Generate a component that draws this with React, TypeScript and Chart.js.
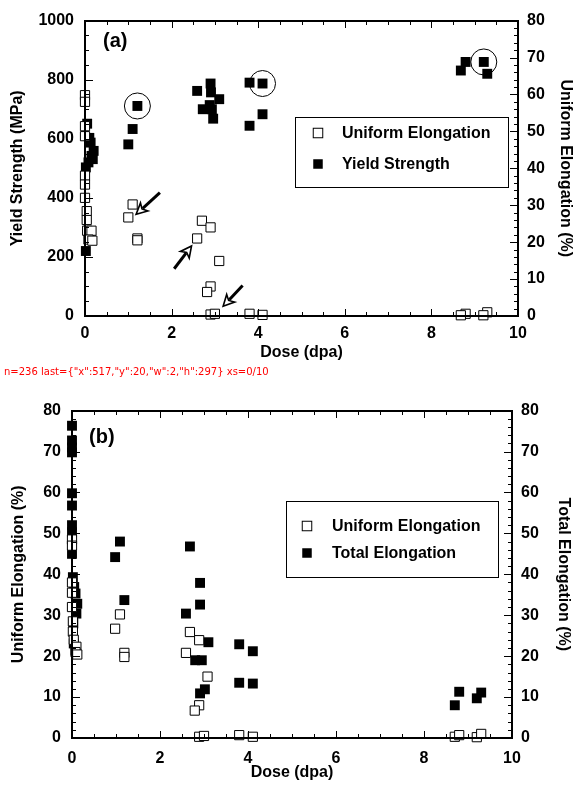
import React, { useEffect, useRef, useState } from 'react';
import { Chart, registerables } from 'chart.js';

Chart.register(...registerables);

const FONT = "'Liberation Sans', Arial, Helvetica, sans-serif";

// ---------------- Panel (a) ----------------
const doseUE_a = [0, 0, 0, 0, 0, 0, 0, 0.04, 0.04, 0.05, 0.15, 0.08, 0.17, 1.10, 1.00, 1.21, 1.21, 2.70, 2.90, 2.59, 3.10, 2.90, 2.82, 2.90, 3.00, 3.80, 4.10, 8.79, 8.68, 9.29, 9.20];
const uniformElong_a = [59.8, 58.0, 51.4, 48.7, 38.0, 35.6, 32.0, 28.4, 26.0, 23.1, 23.1, 20.7, 20.4, 30.2, 26.7, 21.0, 20.5, 25.8, 24.0, 21.0, 14.9, 8.0, 6.5, 0.4, 0.6, 0.6, 0.3, 0.6, 0.2, 1.0, 0.2];
const doseYS_a = [0.05, 0.10, 0.13, 0.20, 0.15, 0.08, 0.02, 0.18, 0.02, 1.21, 1.10, 1.00, 2.59, 2.90, 2.91, 3.10, 2.72, 2.88, 2.96, 2.93, 3.80, 4.10, 4.10, 3.80, 8.68, 8.79, 9.21, 9.29];
const yieldStrength_a = [651, 603, 587, 559, 542, 520, 503, 531, 220, 711, 633, 581, 762, 787, 757, 734, 700, 714, 668, 700, 790, 787, 683, 644, 831, 860, 860, 820];

const circleDose_a = [1.21, 4.10, 9.21];
const circleMPa_a = [711, 787, 860];
const arrowFromDose_a = [1.73, 2.06, 3.64];
const arrowFromMPa_a = [418, 160, 103];
const arrowToDose_a = [1.18, 2.46, 3.19];
const arrowToMPa_a = [344, 237, 33];

// ---------------- Panel (b) ----------------
const doseUE_b = [0, 0, 0, 0, 0, 0.02, 0.02, 0.04, 0.10, 0.08, 0.12, 1.09, 0.98, 1.19, 1.19, 2.68, 2.89, 2.59, 3.08, 2.89, 2.79, 2.89, 3.00, 3.80, 4.11, 8.70, 8.80, 9.20, 9.30];
const uniformElong_b = [48.5, 47.0, 38.0, 35.5, 32.0, 28.5, 26.0, 24.0, 22.3, 21.0, 20.4, 30.2, 26.7, 20.8, 19.8, 25.9, 23.9, 20.8, 15.0, 8.0, 6.7, 0.3, 0.5, 0.7, 0.3, 0.3, 0.7, 0.2, 1.0];
const doseTE_b = [0, 0, 0, 0, 0, 0, 0, 0, 0, 0.02, 0.05, 0.08, 0.12, 0.10, 0.03, 0.04, 0.08, 1.09, 0.98, 1.19, 2.68, 2.91, 2.91, 2.59, 3.10, 2.80, 2.95, 2.91, 3.02, 3.80, 4.11, 3.80, 4.11, 8.70, 8.80, 9.20, 9.30];
const totalElong_b = [76.3, 72.7, 71.0, 69.8, 59.8, 56.8, 52.0, 50.3, 45.0, 39.3, 36.9, 35.3, 32.8, 30.4, 28.0, 23.1, 21.5, 48.0, 44.2, 33.7, 46.8, 37.9, 32.6, 30.4, 23.4, 19.0, 19.0, 10.9, 11.9, 22.9, 21.2, 13.5, 13.3, 8.0, 11.3, 9.7, 11.1];

const xTickLabels = ['0', '2', '4', '6', '8', '10'];

const pts = (xs: number[], ys: number[]) => xs.map((x, i) => ({ x, y: ys[i] }));

const tickFont = { family: FONT, size: 16, weight: 'bold' as const };

type R = { x: number; y: number; w: number; h: number };

function frameGeometry(chart: any, tk: any): R[] {
  const xs = chart.scales.x, ys = chart.scales.y, y2 = chart.scales.y2;
  const out: R[] = [];
  const L0 = Math.round(xs.getPixelForValue(xs.min));
  const R0 = Math.round(xs.getPixelForValue(xs.max));
  const T0 = Math.round(ys.getPixelForValue(ys.max));
  const B0 = Math.round(ys.getPixelForValue(ys.min));
  const isMajor = (v: number, m: number) => Math.abs(v / m - Math.round(v / m)) < 1e-6;
  const nX = Math.round((xs.max - xs.min) / tk.xMinor);
  for (let i = 0; i <= nX; i++) {
    const v = xs.min + i * tk.xMinor;
    const p = Math.round(xs.getPixelForValue(v));
    const len = isMajor(v, tk.xMajor) ? 7 : 4;
    out.push({ x: p, y: B0 - len, w: 1, h: len });
    out.push({ x: p, y: T0, w: 1, h: len });
  }
  const nY = Math.round((ys.max - ys.min) / tk.yMinor);
  for (let i = 0; i <= nY; i++) {
    const v = ys.min + i * tk.yMinor;
    const p = Math.round(ys.getPixelForValue(v));
    out.push({ x: L0, y: p, w: isMajor(v, tk.yMajor) ? 8 : 4, h: 1 });
  }
  const nY2 = Math.round((y2.max - y2.min) / tk.y2Minor);
  for (let i = 0; i <= nY2; i++) {
    const v = y2.min + i * tk.y2Minor;
    const p = Math.round(y2.getPixelForValue(v));
    const len = isMajor(v, tk.y2Major) ? 8 : 4;
    out.push({ x: R0 - len, y: p, w: len, h: 1 });
  }
  out.push({ x: L0 - 1, y: T0 - 1, w: R0 - L0 + 2, h: 2 });
  out.push({ x: L0 - 1, y: B0 - 1, w: R0 - L0 + 2, h: 2 });
  out.push({ x: L0 - 1, y: T0 - 1, w: 2, h: B0 - T0 + 2 });
  out.push({ x: R0 - 1, y: T0 - 1, w: 2, h: B0 - T0 + 2 });
  return out;
}

function drawLegend(chart: any, lg: any) {
  const ctx = chart.ctx;
  ctx.save();
  ctx.fillStyle = '#fff';
  ctx.fillRect(lg.x0, lg.y0, lg.x1 - lg.x0, lg.y1 - lg.y0);
  ctx.strokeStyle = '#000';
  ctx.lineWidth = 1;
  ctx.strokeRect(lg.x0 + 0.5, lg.y0 + 0.5, lg.x1 - lg.x0, lg.y1 - lg.y0);
  chart.data.datasets.forEach((ds: any, i: number) => {
    const cy = lg.rows[i];
    const s = 9.5;
    ctx.fillStyle = ds.backgroundColor;
    ctx.fillRect(lg.mx - s / 2, cy - s / 2, s, s);
    if (ds.borderWidth) {
      ctx.lineWidth = 1;
      ctx.strokeStyle = '#000';
      ctx.strokeRect(lg.mx - s / 2, cy - s / 2, s, s);
    }
    ctx.fillStyle = '#000';
    ctx.font = `bold 16px ${FONT}`;
    ctx.textAlign = 'left';
    ctx.textBaseline = 'middle';
    ctx.fillText(ds.label, lg.tx, cy + 1);
  });
  ctx.fillStyle = '#000';
  ctx.font = `bold 20px ${FONT}`;
  ctx.textAlign = 'left';
  ctx.textBaseline = 'middle';
  ctx.fillText(lg.panel, lg.px, lg.py);
  ctx.restore();
}

function drawAnnotA(chart: any) {
  const { ctx, scales } = chart;
  const xs = scales.x, ys = scales.y;
  ctx.save();
  ctx.strokeStyle = '#000';
  ctx.lineWidth = 1;
  circleDose_a.forEach((d, i) => {
    ctx.beginPath();
    ctx.arc(xs.getPixelForValue(d), ys.getPixelForValue(circleMPa_a[i]), 13, 0, Math.PI * 2);
    ctx.stroke();
  });
  arrowFromDose_a.forEach((d, i) => {
    const x0 = xs.getPixelForValue(d), y0 = ys.getPixelForValue(arrowFromMPa_a[i]);
    const x1 = xs.getPixelForValue(arrowToDose_a[i]), y1 = ys.getPixelForValue(arrowToMPa_a[i]);
    const ang = Math.atan2(y1 - y0, x1 - x0);
    const c = Math.cos(ang), s = Math.sin(ang);
    const hl = 11, hw = 5.5;
    const bx = x1 - hl * c, by = y1 - hl * s;
    ctx.lineWidth = 3;
    ctx.lineCap = 'butt';
    ctx.beginPath();
    ctx.moveTo(x0, y0);
    ctx.lineTo(bx + 2 * c, by + 2 * s);
    ctx.stroke();
    ctx.beginPath();
    ctx.moveTo(x1, y1);
    ctx.lineTo(bx - hw * s, by + hw * c);
    ctx.lineTo(bx + 3 * c, by + 3 * s);
    ctx.lineTo(bx + hw * s, by - hw * c);
    ctx.closePath();
    ctx.fillStyle = '#fff';
    ctx.fill();
    ctx.lineWidth = 1.6;
    ctx.lineJoin = 'miter';
    ctx.stroke();
  });
  ctx.restore();
}

function decorPlugin(id: string, lg: any, annot: boolean) {
  return {
    id,
    afterDraw(chart: any) {
      if (annot) drawAnnotA(chart);
      drawLegend(chart, lg);
    },
  };
}

function scaleCfg(opts: any) {
  return {
    x: {
      type: 'linear', min: 0, max: 10,
      grid: { display: false, drawTicks: false },
      border: { display: false },
      ticks: {
        stepSize: 2, padding: opts.xPad, color: '#000', font: tickFont,
        callback: (v: number) => xTickLabels[Math.round(v / 2)] ?? '',
      },
      title: { display: true, text: 'Dose (dpa)', color: '#000', font: tickFont, padding: { top: 0, bottom: opts.xTitlePad } },
      afterFit: (s: any) => { s.height = opts.xH; },
    },
    y: {
      type: 'linear', position: 'left', min: opts.yMin, max: opts.yMax,
      grid: { display: false, drawTicks: false },
      border: { display: false },
      ticks: { stepSize: opts.yStep, padding: 11, color: '#000', font: tickFont, callback: (v: number) => String(v) },
      title: { display: true, text: opts.yTitle, color: '#000', font: tickFont, padding: { top: opts.yTitlePad, bottom: 0 } },
      afterFit: (s: any) => { s.width = opts.yW; },
    },
    y2: {
      type: 'linear', position: 'right', min: 0, max: 80,
      grid: { display: false, drawTicks: false },
      border: { display: false },
      ticks: { stepSize: 10, padding: 9, color: '#000', font: tickFont, callback: (v: number) => String(v) },
      title: { display: true, text: opts.y2Title, color: '#000', font: tickFont, padding: { top: opts.y2TitlePad, bottom: 0 } },
      afterFit: (s: any) => { s.width = opts.y2W; },
    },
  };
}

const hollow = (label: string, data: any[], yAxisID: string) => ({
  label, data, yAxisID,
  pointStyle: 'rect', pointRadius: 6.5, pointHoverRadius: 6.5,
  backgroundColor: '#fff', borderColor: '#000', borderWidth: 1, clip: false,
});
const filled = (label: string, data: any[], yAxisID: string) => ({
  label, data, yAxisID,
  pointStyle: 'rect', pointRadius: 7, pointHoverRadius: 7,
  backgroundColor: '#000', borderColor: '#000', borderWidth: 0, clip: false,
});

const TOP_B = 390;

export default function App() {
  const refA = useRef<HTMLCanvasElement>(null);
  const refB = useRef<HTMLCanvasElement>(null);
  const [frames, setFrames] = useState<R[]>([]);
  const [dbg, setDbg] = useState('init');

  useEffect(() => {
    document.body.style.margin = '0';
    let chartA: any = null, chartB: any = null;
    try {
      chartA = new Chart(refA.current as HTMLCanvasElement, {
        type: 'scatter',
        data: {
          datasets: [
            hollow('Uniform Elongation', pts(doseUE_a, uniformElong_a), 'y2'),
            filled('Yield Strength', pts(doseYS_a, yieldStrength_a), 'y'),
          ],
        } as any,
        options: {
          responsive: false, animation: false, devicePixelRatio: 1,
          layout: { padding: { top: 16, left: 0, right: 0, bottom: 0 } },
          plugins: { legend: { display: false }, tooltip: { enabled: false } },
          scales: scaleCfg({
            xPad: 8, xTitlePad: 28, xH: 74,
            yMin: 0, yMax: 1000, yStep: 200, yTitle: 'Yield Strength (MPa)', yTitlePad: 8, yW: 85,
            y2Title: 'Uniform Elongation (%)', y2TitlePad: 4, y2W: 61,
          }) as any,
        },
        plugins: [
          decorPlugin('decorA',
            { x0: 295, y0: 117, x1: 508, y1: 187, mx: 318, tx: 342, rows: [133, 164], panel: '(a)', px: 103, py: 41 },
            true),
        ],
      });

      chartB = new Chart(refB.current as HTMLCanvasElement, {
        type: 'scatter',
        data: {
          datasets: [
            hollow('Uniform Elongation', pts(doseUE_b, uniformElong_b), 'y'),
            filled('Total Elongation', pts(doseTE_b, totalElong_b), 'y'),
          ],
        } as any,
        options: {
          responsive: false, animation: false, devicePixelRatio: 1,
          layout: { padding: { top: 20, left: 0, right: 0, bottom: 0 } },
          plugins: { legend: { display: false }, tooltip: { enabled: false } },
          scales: scaleCfg({
            xPad: 11, xTitlePad: 5, xH: 49,
            yMin: 0, yMax: 80, yStep: 10, yTitle: 'Uniform Elongation (%)', yTitlePad: 9, yW: 72,
            y2Title: 'Total Elongation (%)', y2TitlePad: 6, y2W: 67,
          }) as any,
        },
        plugins: [
          decorPlugin('decorB',
            { x0: 286, y0: 111, x1: 498, y1: 187, mx: 307, tx: 332, rows: [136, 163], panel: '(b)', px: 89, py: 47 },
            false),
        ],
      });

      const gA = frameGeometry(chartA, { xMinor: 0.5, xMajor: 2, yMinor: 50, yMajor: 200, y2Minor: 2, y2Major: 10 });
      const gB = frameGeometry(chartB, { xMinor: 0.5, xMajor: 2, yMinor: 2, yMajor: 10, y2Minor: 2, y2Major: 10 })
        .map((r) => ({ ...r, y: r.y + TOP_B }));
      setFrames([...gA, ...gB]);
      setDbg('n=' + (gA.length + gB.length) + ' last=' + JSON.stringify(gA[gA.length - 1]) + ' xs=' + chartA.scales.x.min + '/' + chartA.scales.x.max);
    } catch (e: any) {
      setDbg('ERR ' + String(e && e.message ? e.message : e));
    }

    return () => { if (chartA) chartA.destroy(); if (chartB) chartB.destroy(); };
  }, []);

  return (
    <div style={{ position: 'relative', width: 579, height: 787, background: '#fff' }}>
      <canvas ref={refA} width={579} height={390} style={{ position: 'absolute', left: 0, top: 0 }} />
      <canvas ref={refB} width={579} height={397} style={{ position: 'absolute', left: 0, top: TOP_B }} />
      {frames.map((r, i) => (
        <div
          key={i}
          style={{ position: 'absolute', left: r.x, top: r.y, width: r.w, height: r.h, background: '#000', pointerEvents: 'none' }}
        />
      ))}
      <div style={{ position: 'absolute', left: 4, top: 366, fontSize: 10, color: 'red', fontFamily: 'DejaVu Sans' }}>{dbg}</div>
    </div>
  );
}
